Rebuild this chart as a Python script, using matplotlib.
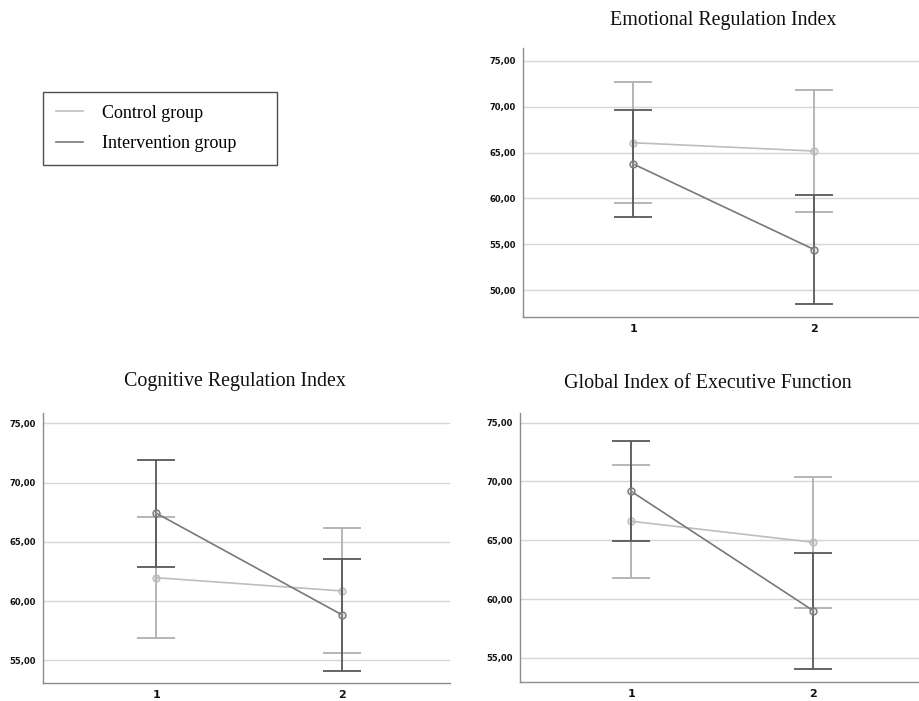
import matplotlib
matplotlib.use("Agg")
import matplotlib.pyplot as plt
from matplotlib.lines import Line2D
import numpy as np

# ---- data ----
times = [1, 2]
time_labels = ["1", "2"]
groups = ["Control group", "Intervention group"]

emo_control_mean = [66.07, 65.16]
emo_control_low = [59.53, 58.49]
emo_control_high = [72.65, 71.84]
emo_interv_mean = [63.75, 54.42]
emo_interv_low = [57.94, 48.50]
emo_interv_high = [69.60, 60.37]

cog_control_mean = [61.97, 60.85]
cog_control_low = [56.88, 55.60]
cog_control_high = [67.10, 66.17]
cog_interv_mean = [67.41, 58.82]
cog_interv_low = [62.87, 54.12]
cog_interv_high = [71.90, 63.55]

glob_control_mean = [66.62, 64.83]
glob_control_low = [61.83, 59.28]
glob_control_high = [71.43, 70.39]
glob_interv_mean = [69.17, 59.02]
glob_interv_low = [64.92, 54.07]
glob_interv_high = [73.44, 63.95]

titles = ["Emotional Regulation Index", "Cognitive Regulation Index",
          "Global Index of Executive Function"]
emo_yticks = [50, 55, 60, 65, 70, 75]
cog_yticks = [55, 60, 65, 70, 75]
glob_yticks = [55, 60, 65, 70, 75]

# ---- style ----
CTRL_LINE = "#bdbdbd"
CTRL_ERR = "#b0b0b0"
INT_LINE = "#787878"
INT_ERR = "#585858"
GRID = "#d6d6d6"
SPINE = "#8c8c8c"
SERIF = "Liberation Serif"
W, H = 919, 701

fig = plt.figure(figsize=(W / 100, H / 100), dpi=100)
fig.patch.set_facecolor("white")

def panel(rect, title, title_xy, ylim, yticks, cm, cl, ch, im, il, ih):
    ax = fig.add_axes(rect)
    ax.set_xlim(0.39, 2.58)
    ax.set_ylim(*ylim)
    ax.set_yticks(yticks)
    ax.set_yticklabels([f"{v:.2f}".replace(".", ",") for v in yticks],
                       fontsize=6, fontweight="bold", color="#111111",
                       family="DejaVu Sans")
    ax.set_xticks(times)
    ax.set_xticklabels(time_labels, fontsize=8, fontweight="bold",
                       color="#111111", family="DejaVu Sans")
    ax.tick_params(axis="both", length=0, pad=5)
    for s in ["top", "right"]:
        ax.spines[s].set_visible(False)
    for s in ["left", "bottom"]:
        ax.spines[s].set_color(SPINE)
        ax.spines[s].set_linewidth(1.0)
    for v in yticks:
        ax.axhline(v, color=GRID, lw=1.0, zorder=0)
    x = np.array(times, dtype=float)
    for mean, lo, hi, lc, ec, z in [(cm, cl, ch, CTRL_LINE, CTRL_ERR, 2),
                                     (im, il, ih, INT_LINE, INT_ERR, 3)]:
        mean = np.array(mean); lo = np.array(lo); hi = np.array(hi)
        ax.errorbar(x, mean, yerr=[mean - lo, hi - mean], fmt="none",
                    ecolor=ec, elinewidth=1.3, capsize=14, capthick=1.3,
                    zorder=z)
        ax.plot(x, mean, color=lc, lw=1.2, marker="o", markersize=5,
                markerfacecolor=(0.7, 0.7, 0.7, 0.35), markeredgecolor=lc,
                markeredgewidth=1.0, zorder=z + 1)
    fig.text(title_xy[0] / W, 1 - title_xy[1] / H, title, ha="center",
             va="center", fontsize=14.4, family=SERIF, color="#111111")
    return ax

panel([0.569, 0.5478, 0.431, 0.3837], titles[0], (723, 20),
      (47.06, 76.4), emo_yticks,
      emo_control_mean, emo_control_low, emo_control_high,
      emo_interv_mean, emo_interv_low, emo_interv_high)
panel([0.0468, 0.0257, 0.443, 0.385], titles[1], (234.5, 381),
      (53.08, 75.87), cog_yticks,
      cog_control_mean, cog_control_low, cog_control_high,
      cog_interv_mean, cog_interv_low, cog_interv_high)
panel([0.5658, 0.0267, 0.434, 0.3841], titles[2], (708, 384),
      (52.93, 75.82), glob_yticks,
      glob_control_mean, glob_control_low, glob_control_high,
      glob_interv_mean, glob_interv_low, glob_interv_high)

handles = [Line2D([], [], color=CTRL_LINE, lw=1.2),
           Line2D([], [], color=INT_LINE, lw=1.2)]
leg = fig.legend(handles, groups, loc="upper left",
                 bbox_to_anchor=(43 / W, 1 - 167 / H, 234 / W, 75 / H),
                 mode="expand",
                 prop={"family": SERIF, "size": 13}, frameon=True,
                 fancybox=False, edgecolor="#222222", handlelength=1.5,
                 handletextpad=1.05, borderpad=0.7, labelspacing=0.75,
                 borderaxespad=0)
leg.get_frame().set_linewidth(1.0)

fig.savefig("out.png", dpi=100, facecolor="white")
